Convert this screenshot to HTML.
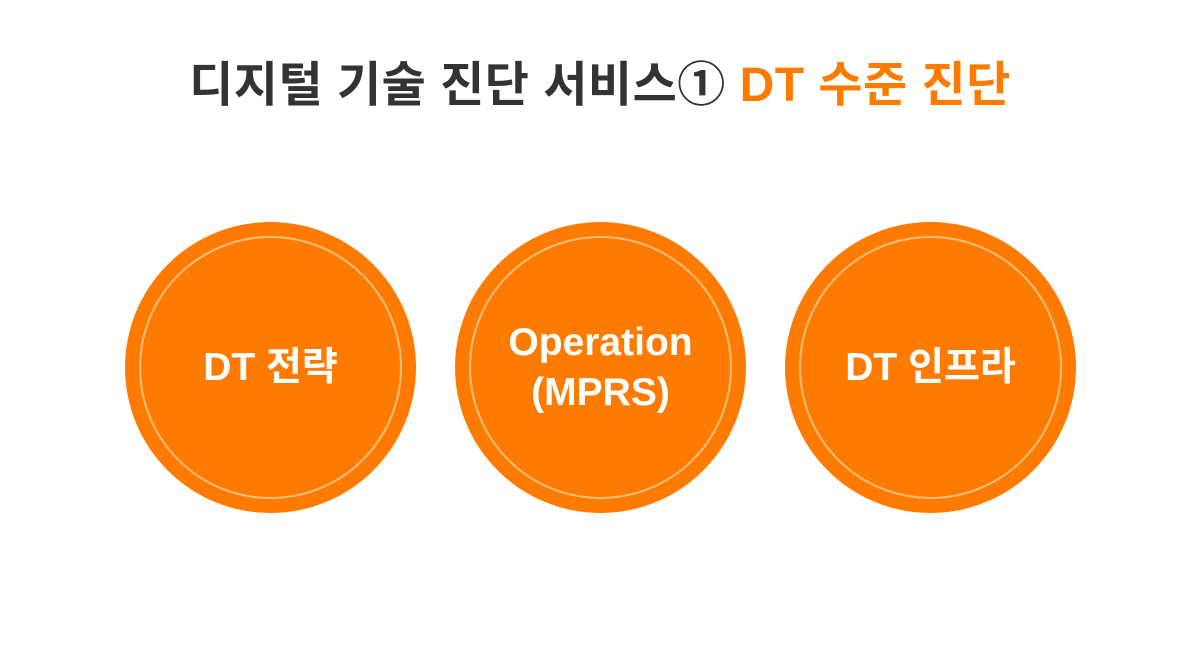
<!DOCTYPE html>
<html><head><meta charset="utf-8"><style>
body{margin:0;width:1200px;height:650px;background:#fff;font-family:"Liberation Sans","Noto Sans CJK KR",sans-serif;position:relative;overflow:hidden}
.t{position:absolute;top:55px;left:0;width:1200px;text-align:center;font-size:48px;font-weight:bold;color:#333;letter-spacing:0.5px;line-height:62px}
.t span{color:#ff7b00}
.c{position:absolute;top:222px;width:291px;height:291px;border-radius:50%;background:#ff7b00}
.c:before{content:"";position:absolute;left:14px;top:14px;right:14px;bottom:14px;border-radius:50%;border:2px solid rgba(255,220,180,.7)}
.c div{position:absolute;inset:0;display:flex;align-items:center;justify-content:center;text-align:center;color:#fff;font-weight:bold;font-size:39px;line-height:50px;letter-spacing:0}
</style></head><body>
<div class="t">디지털 기술 진단 서비스① <span>DT 수준 진단</span></div>
<div class="c" style="left:125px"><div>DT 전략</div></div>
<div class="c" style="left:455px"><div>Operation<br>(MPRS)</div></div>
<div class="c" style="left:785px"><div>DT 인프라</div></div>
</body></html>
